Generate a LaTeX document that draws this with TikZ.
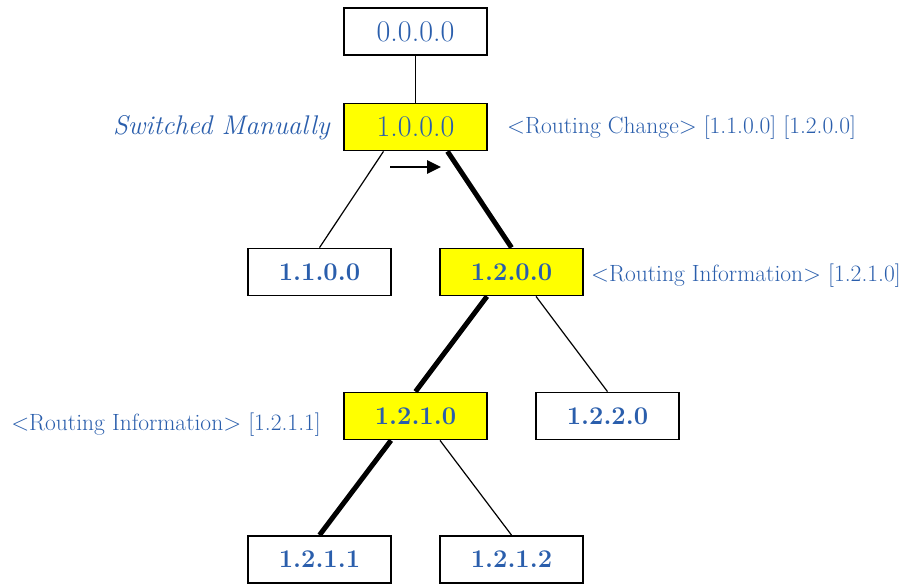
\documentclass[tikz,border=0pt]{standalone}
\usetikzlibrary{arrows.meta}
\definecolor{txtblue}{RGB}{42,94,172}
\definecolor{hiyellow}{RGB}{255,255,0}
\tikzset{
  box/.style={draw=black, line width=1.8pt, minimum width=143pt, minimum height=47pt, inner sep=0pt, text=txtblue, font=\fontsize{25.5}{30}\selectfont\bfseries},
  boxreg/.style={box, font=\fontsize{30}{34}\selectfont},
  hilite/.style={fill=hiyellow},
  thinlink/.style={line width=1.2pt},
  thicklink/.style={line width=5pt},
  note/.style={text=txtblue, font=\fontsize{23.5}{27}\selectfont, inner sep=0pt},
}
\begin{document}
\begin{tikzpicture}[x=1pt,y=-1pt]
\useasboundingbox (0,0) rectangle (906,584);
\node[boxreg] (n0) at (415.5,31.5) {\raisebox{-2pt}{0.0.0.0}};
\node[boxreg,hilite] (n1) at (415.5,127) {\raisebox{-3pt}{1.0.0.0}};
\node[box] (n11) at (319.5,272) {\raisebox{-2pt}{1.1.0.0}};
\node[box,hilite] (n12) at (511.5,272) {\raisebox{-2pt}{1.2.0.0}};
\node[box,hilite] (n121) at (415.5,416) {\raisebox{-2pt}{1.2.1.0}};
\node[box] (n122) at (607.5,416) {\raisebox{-2pt}{1.2.2.0}};
\node[box] (n1211) at (319.5,559.5) {\raisebox{-2pt}{1.2.1.1}};
\node[box] (n1212) at (511.5,559.5) {\raisebox{-2pt}{1.2.1.2}};

\draw[thinlink] (n0.south) -- (n1.north);
\draw[thinlink] ([xshift=-32pt]n1.south) -- (n11.north);
\draw[thicklink] ([xshift=32pt]n1.south) -- (n12.north);
\draw[thicklink] ([xshift=-24.5pt]n12.south) -- (n121.north);
\draw[thinlink] ([xshift=24.5pt]n12.south) -- (n122.north);
\draw[thicklink] ([xshift=-24.5pt]n121.south) -- (n1211.north);
\draw[thinlink] ([xshift=24.5pt]n121.south) -- (n1212.north);

\coordinate (a1) at (390,167);
\coordinate (a2) at (441,167);
\draw[line width=2.6pt, -{Triangle[length=14pt,width=13pt]}] (a1) -- (a2);

\node[note, anchor=east, font=\fontsize{27}{31}\selectfont\itshape] (sw) at (330,128) {Switched Manually};
\node[note, anchor=west] (rc) at (507,128) {<Routing Change> [1.1.0.0] [1.2.0.0]};
\node[note, anchor=west] (ri1) at (591,276) {<Routing Information> [1.2.1.0]};
\node[note, anchor=east] (ri2) at (321,425) {<Routing Information> [1.2.1.1]};
\end{tikzpicture}
\end{document}
